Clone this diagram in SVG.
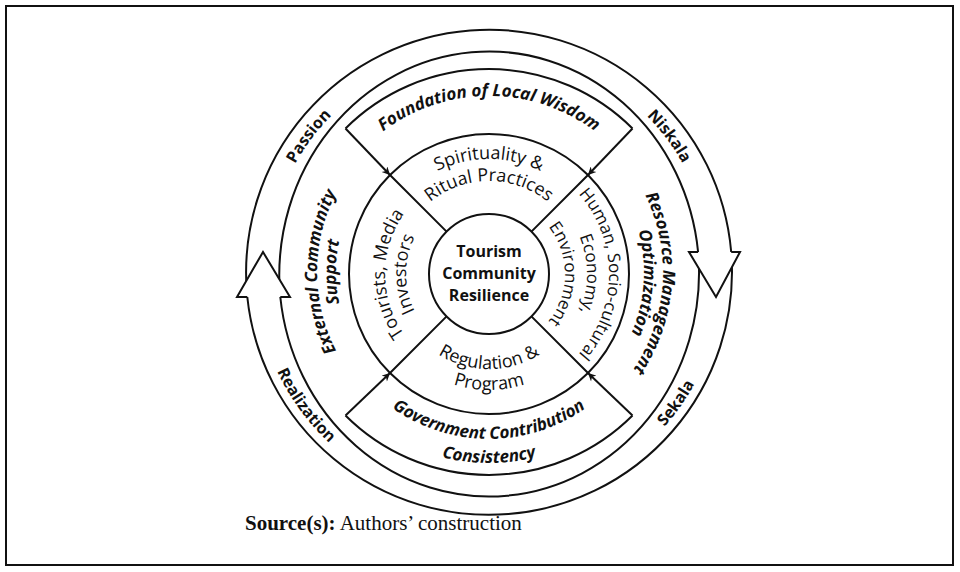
<svg xmlns="http://www.w3.org/2000/svg" width="960" height="572" viewBox="0 0 960 572">
<defs>
<style>
.ln{fill:none;stroke:#111;stroke-width:2}
.hd{fill:#fff;stroke:#111;stroke-width:2;stroke-linejoin:miter}
text{fill:#111}
.c{font-family:"Open Sans","Noto Sans",sans-serif;font-weight:700;font-size:16px}
.r{font-family:"Open Sans","Noto Sans",sans-serif;font-size:18px}
.r2{font-family:"Open Sans","Noto Sans",sans-serif;font-size:17px}
.s{font-family:"Open Sans","Noto Sans",sans-serif;font-weight:700;font-style:italic;font-size:17px}
.b{font-family:"Open Sans","Noto Sans",sans-serif;font-weight:700;font-size:16px}
.src{font-family:"Liberation Serif","Times New Roman",serif;font-size:21px}
</style>
<marker id="ah" viewBox="0 0 10 10" refX="10" refY="5" markerWidth="9" markerHeight="8" orient="auto" markerUnits="userSpaceOnUse">
<path d="M0,0 L10,5 L0,10 L3,5 z" fill="#111"/>
</marker>
<path id="pT1" d="M380.9,234.7 A115,115 0 0 1 597.1,234.7"/>
<path id="pT2" d="M401.6,242.2 A93,93 0 0 1 576.4,242.2"/>
<path id="pB1" d="M399.7,306.5 A95,95 0 0 0 578.3,306.5"/>
<path id="pB2" d="M380.0,313.7 A116,116 0 0 0 598.0,313.7"/>
<path id="pL1" d="M453.4,371.7 A104,104 0 0 1 453.4,176.3"/>
<path id="pL2" d="M460.6,352.0 A83,83 0 0 1 460.6,196.0"/>
<path id="pR1" d="M530.0,161.2 A120,120 0 0 1 530.0,386.8"/>
<path id="pR2" d="M522.5,181.9 A98,98 0 0 1 522.5,366.1"/>
<path id="pR3" d="M515.0,202.6 A76,76 0 0 1 515.0,345.4"/>
<path id="pST" d="M323.6,211.8 A176,176 0 0 1 654.4,211.8"/>
<path id="pSB1" d="M332.1,329.1 A167,167 0 0 0 645.9,329.1"/>
<path id="pSB2" d="M309.5,337.3 A191,191 0 0 0 668.5,337.3"/>
<path id="pSL1" d="M430.2,433.6 A172,172 0 0 1 430.2,110.4"/>
<path id="pSL2" d="M436.7,415.8 A153,153 0 0 1 436.7,128.2"/>
<path id="pSR1" d="M559.8,113.1 A174,174 0 0 1 537.0,439.3"/>
<path id="pSR2" d="M552.0,130.4 A155,155 0 0 1 531.7,421.0"/>
<path id="pPa" d="M267.3,283.6 A222,222 0 0 1 439.1,55.7"/>
<path id="pNi" d="M539.0,55.7 A222,222 0 0 1 710.7,283.6"/>
<path id="pRe" d="M255.6,255.7 A234,234 0 0 0 432.4,499.1"/>
<path id="pSe" d="M549.6,498.0 A234,234 0 0 0 722.1,251.6"/>
</defs>
<rect x="6" y="6" width="947" height="559" fill="#fff" stroke="#111" stroke-width="2"/>

<g id="cycle-arrows">
<g id="arrow-top">
<path class="ln" d="M246.7,290 A243,243 0 0 1 731.2,252"/>
<path class="ln" d="M279.7,290 A210,224 0 0 1 698.1,252"/>
</g>
<g id="arrow-bottom">
<path class="ln" d="M731.6,258 A243,243 0 0 1 247.3,297"/>
<path class="ln" d="M698.6,258 A210,224 0 0 1 280.3,297"/>
</g>
<path class="hd" d="M731.2,252 L740,252 L716,297 L689,252 L698.1,252"/>
<path class="hd" d="M247.3,297 L237,297 L263,252 L290,297 L280.3,297"/>
<g id="label-passion"><text class="b"><textPath href="#pPa" startOffset="50%" text-anchor="middle">Passion</textPath></text></g>
<g id="label-niskala"><text class="b"><textPath href="#pNi" startOffset="50%" text-anchor="middle">Niskala</textPath></text></g>
<g id="label-realization"><text class="b"><textPath href="#pRe" startOffset="50%" text-anchor="middle">Realization</textPath></text></g>
<g id="label-sekala"><text class="b"><textPath href="#pSe" startOffset="50%" text-anchor="middle">Sekala</textPath></text></g>
</g>

<g id="outer-ring">
<path class="ln" d="M345.5,128.5 A203,203 0 0 1 632.5,128.5"/>
<path class="ln" d="M632.5,415.5 A203,203 0 0 1 345.5,415.5"/>
</g>

<g id="sector-foundation"><text class="s"><textPath href="#pST" startOffset="50%" text-anchor="middle">Foundation of Local Wisdom</textPath></text></g>
<g id="sector-government">
<text class="s"><textPath href="#pSB1" startOffset="50%" text-anchor="middle">Government Contribution</textPath></text>
<text class="s"><textPath href="#pSB2" startOffset="50%" text-anchor="middle">Consistency</textPath></text>
</g>
<g id="sector-external">
<text class="s"><textPath href="#pSL1" startOffset="50%" text-anchor="middle">External Community</textPath></text>
<text class="s"><textPath href="#pSL2" startOffset="50%" text-anchor="middle">Support</textPath></text>
</g>
<g id="sector-resource">
<text class="s"><textPath href="#pSR1" startOffset="50%" text-anchor="middle">Resource Management</textPath></text>
<text class="s"><textPath href="#pSR2" startOffset="50%" text-anchor="middle">Optimization</textPath></text>
</g>

<g id="middle-ring">
<circle class="ln" cx="489" cy="274" r="140"/>
<path class="ln" d="M446.6,231.6 L390,175 M531.4,231.6 L588,175 M531.4,316.4 L588,373 M446.6,316.4 L390,373"/>
</g>
<g id="ring-spirituality">
<text class="r"><textPath href="#pT1" startOffset="50%" text-anchor="middle">Spirituality &amp;</textPath></text>
<text class="r"><textPath href="#pT2" startOffset="50%" text-anchor="middle">Ritual Practices</textPath></text>
</g>
<g id="ring-regulation">
<text class="r"><textPath href="#pB1" startOffset="50%" text-anchor="middle">Regulation &amp;</textPath></text>
<text class="r"><textPath href="#pB2" startOffset="50%" text-anchor="middle">Program</textPath></text>
</g>
<g id="ring-tourists">
<text class="r"><textPath href="#pL1" startOffset="50%" text-anchor="middle">Tourists, Media</textPath></text>
<text class="r"><textPath href="#pL2" startOffset="50%" text-anchor="middle">Investors</textPath></text>
</g>
<g id="ring-human">
<text class="r2"><textPath href="#pR1" startOffset="50%" text-anchor="middle">Human, Socio-cultural</textPath></text>
<text class="r2"><textPath href="#pR2" startOffset="50%" text-anchor="middle">Economy,</textPath></text>
<text class="r2"><textPath href="#pR3" startOffset="50%" text-anchor="middle">Environment</textPath></text>
</g>

<g id="center">
<circle cx="489" cy="274" r="60" fill="#fff" stroke="#111" stroke-width="2"/>
<text class="c" x="489" y="257" text-anchor="middle">Tourism</text>
<text class="c" x="489" y="279" text-anchor="middle">Community</text>
<text class="c" x="489" y="301" text-anchor="middle">Resilience</text>
</g>

<g id="connectors">
<line class="ln" x1="345.5" y1="128.5" x2="390" y2="175" stroke-width="1.6" marker-end="url(#ah)"/>
<line class="ln" x1="632.5" y1="128.5" x2="588" y2="175" stroke-width="1.6" marker-end="url(#ah)"/>
<line class="ln" x1="345.5" y1="415.5" x2="390" y2="373" stroke-width="1.6" marker-end="url(#ah)"/>
<line class="ln" x1="632.5" y1="415.5" x2="588" y2="373" stroke-width="1.6" marker-end="url(#ah)"/>
</g>

<g id="source">
<text class="src" x="245" y="530"><tspan font-weight="700">Source(s):</tspan> Authors’ construction</text>
</g>
</svg>
